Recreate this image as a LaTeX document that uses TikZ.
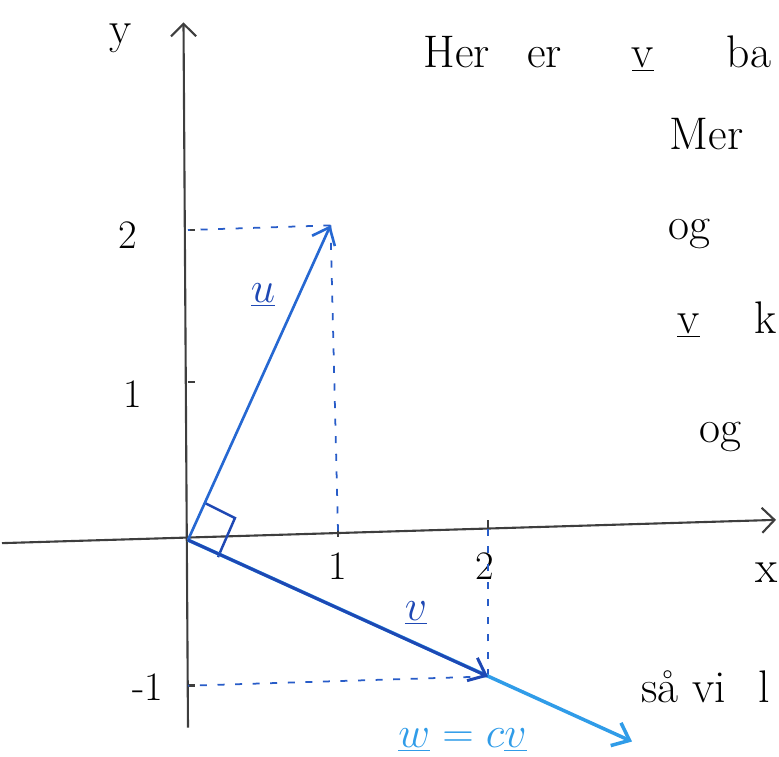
\documentclass[tikz,border=0pt]{standalone}
\usepackage{tikz}
\usetikzlibrary{arrows.meta,calc}
\definecolor{axgray}{RGB}{62,62,62}
\definecolor{udblue}{RGB}{38,104,210}
\definecolor{vdblue}{RGB}{30,72,180}
\definecolor{wlblue}{RGB}{48,156,232}
\definecolor{dashblue}{RGB}{40,92,200}
\tikzset{
  axis/.style  ={draw=axgray, line width=1.2pt, -{Straight Barb[length=2.5mm,width=5mm]}},
  tick/.style  ={draw=axgray, line width=1.6pt},
  vec/.style   ={line width=1.5pt, -{Straight Barb[length=3mm,width=5mm]}},
  help/.style  ={draw=dashblue, line width=1pt, dash pattern=on 4pt off 6pt},
  hand/.style  ={font=\fontsize{26}{30}\selectfont, inner sep=0pt},
  num/.style   ={font=\fontsize{23}{27}\selectfont, inner sep=0pt},
  vlbl/.style  ={inner sep=0pt, font=\fontsize{24}{28}\selectfont}
}
\begin{document}
\begin{tikzpicture}[x=3cm,y=3.1cm]
\useasboundingbox (-1.2533,-1.394) rectangle (3.94,3.484);
\clip (-1.2533,-1.394) rectangle (3.94,3.484);
% points
\coordinate (O) at (0,0);
\coordinate (U) at (0.95,2.03);
\coordinate (V) at (2,-0.88);
\coordinate (W) at (2.96,-1.30);
\coordinate (xl) at (-1.24,-0.02);
\coordinate (xr) at (3.92,0.13);
\coordinate (yb) at (0,-1.21);
\coordinate (yt) at (-0.03,3.34);
% ticks
\coordinate (tx1) at (1,0.06);
\coordinate (tx2) at (2,0.09);
\coordinate (ty2) at (0,2.0);
\coordinate (ty1) at (0,1.02);
\coordinate (tym1) at (0,-0.94);
% axes
\draw[axis] (xl) -- (xr);
\draw[axis] (yb) -- (yt);
\foreach \t in {tx1,tx2} \draw[tick] ($(\t)+(0,-0.04)$) -- ($(\t)+(0,0.04)$);
\foreach \t in {ty2,ty1,tym1} \draw[tick] (\t) -- ($(\t)+(0.05,0)$);
\node[hand] (ylab) at (-0.45,3.24) {y};
\node[hand] (xlab) at (3.86,-0.21) {x};
\node[num] (n2) at (-0.40,1.97) {2};
\node[num] (n1) at (-0.37,0.94) {1};
\node[num] (nm1) at (-0.27,-0.95) {-1};
\node[num] (nx1) at (1.0,-0.17) {1};
\node[num] (nx2) at (1.98,-0.17) {2};
% helper lines
\draw[help] (U) -- (ty2);
\draw[help] (U) -- (tx1);
\draw[help] (V) -- (tym1);
\draw[help] (V) -- (tx2);
% right angle
\draw[vdblue, line width=1.4pt] (0.113,0.239) -- (0.313,0.142) -- (0.2,-0.11);
% vectors
\draw[vec, wlblue, line width=2pt] (O) -- (W);
\draw[vec, udblue] (O) -- (U);
\draw[vec, vdblue, line width=1.7pt, yshift=1.5pt] (O) -- (V);
\node[vlbl, text=vdblue] (ulab) at (0.5,1.58) {$\underline{u}$};
\node[vlbl, text=vdblue] (vlab) at (1.52,-0.47) {$\underline{v}$};
\node[vlbl, text=wlblue] (wlab) at (1.83,-1.29) {$\underline{w} = c\underline{v}$};
% text on the right
\node[hand, anchor=base west] (t1) at (1.567,3.05)
  {Her\hspace{0.75cm}er\hspace{1.4cm}\underline{v}\hspace{1.45cm}ba};
\node[hand, anchor=base west] (t2) at (3.21,2.52) {Mer};
\node[hand, anchor=base west] (t3) at (3.20,1.94) {og};
\node[hand, anchor=base west] (t4) at (3.26,1.335) {\underline{v}\hspace{1.1cm}k};
\node[hand, anchor=base west] (t5) at (3.41,0.626) {og};
\node[hand, anchor=base west] (t6) at (3.02,-1.045) {så vi\hspace{0.65cm}l};
\end{tikzpicture}
\end{document}
